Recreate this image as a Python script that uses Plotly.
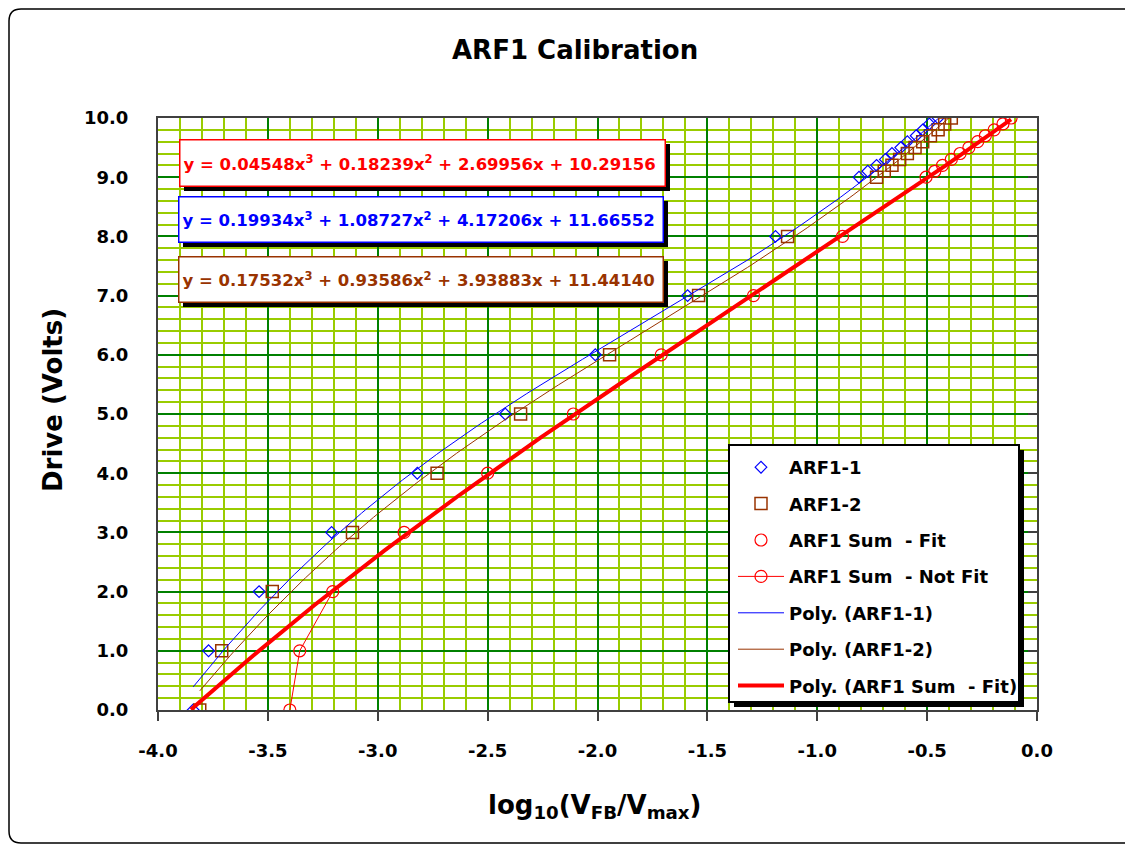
import numpy as np
import plotly.graph_objects as go

# ---------------- data ----------------
drive_levels = [0, 1, 2, 3, 4, 5, 6, 7, 8, 9, 9.1, 9.2, 9.3, 9.4, 9.5, 9.6, 9.7, 9.8, 9.9, 10.0]
arf1_1_x = [-3.84, -3.77, -3.54, -3.21, -2.82, -2.42, -2.01, -1.59, -1.19, -0.81,
            -0.77, -0.73, -0.69, -0.66, -0.62, -0.59, -0.55, -0.52, -0.49, -0.45]
arf1_2_x = [-3.81, -3.71, -3.48, -3.115, -2.73, -2.35, -1.945, -1.54, -1.135, -0.73,
            -0.695, -0.66, -0.625, -0.59, -0.555, -0.52, -0.485, -0.45, -0.42, -0.39]
sum_fit_levels = [3, 4, 5, 6, 7, 8, 9, 9.1, 9.2, 9.3, 9.4, 9.5, 9.6, 9.7, 9.8, 9.9, 10.0]
sum_fit_x = [-2.88, -2.50, -2.11, -1.71, -1.29, -0.885, -0.505, -0.465, -0.43, -0.39,
             -0.35, -0.31, -0.27, -0.235, -0.195, -0.155, -0.118]
sum_notfit_levels = [0, 1, 2]
sum_notfit_x = [-3.40, -3.355, -3.205]

# trendline coefficients (as printed on the chart, highest power first)
poly_arf1_1 = [0.19934, 1.08727, 4.17206, 11.66552]
poly_arf1_2 = [0.17532, 0.93586, 3.93883, 11.44140]
poly_sum_fit = [0.04548, 0.18239, 2.69956, 10.29156]
sum_fit_trend_extent = [-3.85, -0.118]   # trendline forecast back to y = 0

x_ticks = [-4.0, -3.5, -3.0, -2.5, -2.0, -1.5, -1.0, -0.5, 0.0]
y_ticks = [0, 1, 2, 3, 4, 5, 6, 7, 8, 9, 10]

# ---------------- styling ----------------
BLUE = "#0000FF"
BROWN = "#993300"
RED = "#FF0000"
DARKGREEN = "#008000"
LIGHTGREEN = "#99CC00"
AXIS = "#404040"
FONT = "DejaVu Sans"

# page geometry (page pixels; figure div starts at 8,8 because of body margin)
OFF = 8
PL, PR, PT, PB = 158, 1037, 118, 710
W, H = 1117, 836


def px(xp):
    return (xp - PL) / (PR - PL)


def py(yp):
    return (PB - yp) / (PB - PT)


def trend(coefs, x0, x1):
    xs = np.linspace(x0, x1, 200)
    return xs, np.polyval(coefs, xs)


fig = go.Figure()

fig.add_trace(go.Scatter(
    x=arf1_1_x, y=drive_levels, mode="markers", name="ARF1-1",
    marker=dict(symbol="diamond-open", size=9, color=BLUE, line=dict(width=1.2, color=BLUE))))
fig.add_trace(go.Scatter(
    x=arf1_2_x, y=drive_levels, mode="markers", name="ARF1-2",
    marker=dict(symbol="square-open", size=12, color=BROWN, line=dict(width=1.5, color=BROWN))))
fig.add_trace(go.Scatter(
    x=sum_fit_x, y=sum_fit_levels, mode="markers", name="ARF1 Sum  - Fit",
    marker=dict(symbol="circle-open", size=12, color=RED, line=dict(width=1.2, color=RED))))
fig.add_trace(go.Scatter(
    x=sum_notfit_x, y=sum_notfit_levels, mode="lines+markers", name="ARF1 Sum  - Not Fit",
    line=dict(color=RED, width=1),
    marker=dict(symbol="circle-open", size=12, color=RED, line=dict(width=1.2, color=RED))))

tx, ty = trend(poly_arf1_1, min(arf1_1_x), max(arf1_1_x))
fig.add_trace(go.Scatter(x=tx, y=ty, mode="lines", name="Poly. (ARF1-1)",
                         line=dict(color=BLUE, width=1)))
tx, ty = trend(poly_arf1_2, min(arf1_2_x), max(arf1_2_x))
fig.add_trace(go.Scatter(x=tx, y=ty, mode="lines", name="Poly. (ARF1-2)",
                         line=dict(color=BROWN, width=1)))
tx, ty = trend(poly_sum_fit, sum_fit_trend_extent[0], sum_fit_trend_extent[1])
fig.add_trace(go.Scatter(x=tx, y=ty, mode="lines", name="Poly. (ARF1 Sum  - Fit)",
                         line=dict(color=RED, width=4)))

# dummy trace on the right-hand axis (inward ticks)
fig.add_trace(go.Scatter(x=[None], y=[None], yaxis="y2", showlegend=False, hoverinfo="skip"))

for i, tr in enumerate(fig.data):
    tr.legendgroup = f"g{i}"

# ---------------- shapes ----------------
shapes = []
# outer rounded chart-area border (right edge falls outside the window)
L, T, B, R, r = 9, 9, 843, 1130, 12
path = (f"M {px(R)},{py(T)} L {px(L + r)},{py(T)} Q {px(L)},{py(T)} {px(L)},{py(T + r)} "
        f"L {px(L)},{py(B - r)} Q {px(L)},{py(B)} {px(L + r)},{py(B)} L {px(R)},{py(B)}")
shapes.append(dict(type="path", path=path, xref="paper", yref="paper",
                   line=dict(color="#000000", width=1.5), layer="below"))

# equation boxes (shadows)
eq_boxes = [(179, 139, 665, 186), (178, 196, 663, 242), (178, 256, 663, 302)]
for (x0, y0, x1, y1) in eq_boxes:
    shapes.append(dict(type="rect", xref="paper", yref="paper",
                       x0=px(x0 + 5), x1=px(x1 + 5), y0=py(y1 + 5), y1=py(y0 + 5),
                       fillcolor="#000000", line=dict(width=0), layer="above"))
    shapes.append(dict(type="rect", xref="paper", yref="paper",
                       x0=px(x0), x1=px(x1), y0=py(y1), y1=py(y0),
                       fillcolor="#FFFFFF", line=dict(width=0), layer="above"))

# legend box with shadow
LB = (729, 445, 1019, 702)
shapes.append(dict(type="rect", xref="paper", yref="paper",
                   x0=px(LB[0] + 5), x1=px(LB[2] + 5), y0=py(LB[3] + 5), y1=py(LB[1] + 5),
                   fillcolor="#000000", line=dict(width=0), layer="above"))
shapes.append(dict(type="rect", xref="paper", yref="paper",
                   x0=px(LB[0]), x1=px(LB[2]), y0=py(LB[3]), y1=py(LB[1]),
                   fillcolor="#FFFFFF", line=dict(color="#000000", width=2), layer="above"))

# ---------------- annotations ----------------
def eq_text(c):
    return (f"y = {c[0]:.5f}x<sup>3</sup> + {c[1]:.5f}x<sup>2</sup> + "
            f"{c[2]:.5f}x + {c[3]:.5f}")


annotations = []
for (box, coefs, col) in zip(eq_boxes, [poly_sum_fit, poly_arf1_1, poly_arf1_2], [RED, BLUE, BROWN]):
    x0, y0, x1, y1 = box
    annotations.append(dict(
        text=eq_text(coefs), xref="paper", yref="paper",
        x=px(x0), y=py(y0), xanchor="left", yanchor="top", showarrow=False,
        width=x1 - x0 - 8, height=y1 - y0 - 8, align="left", valign="middle",
        bgcolor="#FFFFFF", bordercolor=col, borderwidth=1.5, borderpad=3,
        font=dict(family=FONT, size=16.5, color=col, weight="bold")))

annotations.append(dict(text="ARF1 Calibration", xref="paper", yref="paper",
                        x=px(575), y=py(50), xanchor="center", yanchor="middle", showarrow=False,
                        font=dict(family=FONT, size=26, color="#000000", weight="bold")))
annotations.append(dict(text="Drive (Volts)", xref="paper", yref="paper", textangle=-90,
                        x=px(53), y=py(400), xanchor="center", yanchor="middle", showarrow=False,
                        font=dict(family=FONT, size=26, color="#000000", weight="bold")))
annotations.append(dict(text="log<sub>10</sub>(V<sub>FB</sub>/V<sub>max</sub>)",
                        xref="paper", yref="paper",
                        x=px(595), y=py(806), xanchor="center", yanchor="middle", showarrow=False,
                        font=dict(family=FONT, size=26, color="#000000", weight="bold")))

fig.update_layout(
    width=W, height=H,
    margin=dict(l=PL - OFF, r=(OFF + W) - PR, t=PT - OFF, b=(OFF + H) - PB, pad=0),
    paper_bgcolor="#FFFFFF", plot_bgcolor="#FFFFFF",
    font=dict(family=FONT, size=18, color="#000000", weight="bold"),
    showlegend=True,
    legend=dict(x=px(733), y=py(449), xanchor="left", yanchor="top",
                bgcolor="rgba(0,0,0,0)", borderwidth=0, itemwidth=46,
                traceorder="grouped", tracegroupgap=10,
                font=dict(family=FONT, size=18, color="#000000", weight="bold")),
    xaxis=dict(range=[-4, 0], tickvals=x_ticks, ticktext=[f"{v:.1f}" for v in x_ticks],
               showgrid=True, gridcolor=DARKGREEN, gridwidth=1.5,
               minor=dict(dtick=0.1, showgrid=True, gridcolor=LIGHTGREEN, gridwidth=1.5),
               zeroline=False, showline=True, linecolor=AXIS, linewidth=2, mirror=True,
               ticks="outside", ticklen=9, tickwidth=2, tickcolor=AXIS,
               ticklabelstandoff=14,
               tickfont=dict(family=FONT, size=18, color="#000000", weight="bold")),
    yaxis=dict(range=[0, 10], tickvals=y_ticks, ticktext=[f"{v:.1f}" for v in y_ticks],
               showgrid=True, gridcolor=DARKGREEN, gridwidth=1.5,
               minor=dict(dtick=0.2, showgrid=True, gridcolor=LIGHTGREEN, gridwidth=1.5),
               zeroline=False, showline=True, linecolor=AXIS, linewidth=2, mirror=True,
               ticks="", ticklabelstandoff=24,
               tickfont=dict(family=FONT, size=18, color="#000000", weight="bold")),
    yaxis2=dict(range=[0, 10], overlaying="y", side="right", tickvals=y_ticks,
                showticklabels=False, showgrid=False, zeroline=False, showline=False,
                ticks="inside", ticklen=9, tickwidth=2, tickcolor=AXIS),
    shapes=shapes,
    annotations=annotations,
)

fig.write_html("out.html")
